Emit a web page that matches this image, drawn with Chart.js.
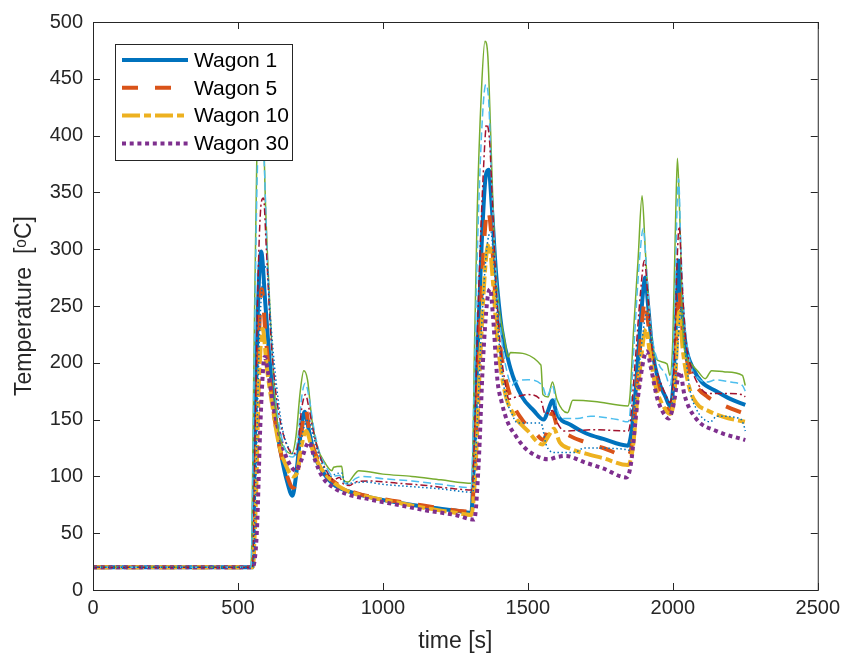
<!doctype html>
<html lang="en">
<head>
    <title>Wagon temperatures</title>
    <meta charset="UTF-8" />
    <style>
        html, body { margin: 0; padding: 0; background: #fff; }
        canvas { display: block; }
    </style>
</head>
<body>
<canvas id="myChart" width="846" height="661"></canvas>
<script src="https://cdn.jsdelivr.net/npm/chart.js"></script>

<script>
    // [time s, temperature oC] - first set (thick lines, in legend)
    const wagon1 = [[0,20],[550,20],[558,120],[568,240],[580,298],[595,250],[610,200],[630,150],[650,118],[670,95],[688,83],[700,100],[715,135],[730,157],[745,140],[765,118],[790,105],[830,93],[880,87],[950,82],[1050,77],[1150,73],[1250,70],[1305,68],[1312,100],[1325,200],[1340,300],[1355,365],[1365,370],[1375,340],[1390,280],[1410,230],[1440,195],[1480,170],[1520,158],[1555,150],[1570,158],[1585,167],[1600,155],[1650,145],[1700,138],[1760,133],[1845,127],[1855,135],[1870,170],[1890,240],[1905,275],[1915,250],[1930,210],[1950,185],[1975,170],[1990,162],[2000,175],[2010,230],[2020,290],[2030,250],[2045,215],[2070,195],[2100,183],[2150,175],[2200,168],[2250,163]];
    const wagon5 = [[0,20],[550,20],[560,80],[570,200],[582,265],[595,225],[610,185],[630,145],[650,118],[670,100],[690,90],[705,100],[718,135],[732,160],[750,135],[770,118],[800,103],[850,92],[900,86],[1000,80],[1100,76],[1200,72],[1305,69],[1315,100],[1330,200],[1350,310],[1362,335],[1375,310],[1390,250],[1410,205],[1440,170],[1480,150],[1520,140],[1555,132],[1570,145],[1585,156],[1600,145],[1650,135],[1700,130],[1760,125],[1845,118],[1860,130],[1880,190],[1905,255],[1915,235],[1935,195],[1960,172],[1990,158],[2005,175],[2020,265],[2035,225],[2055,195],[2080,180],[2120,170],[2180,162],[2250,155]];
    const wagon10 = [[0,20],[550,20],[562,80],[572,180],[585,230],[600,195],[620,160],[640,130],[665,110],[690,100],[702,102],[720,128],[735,140],[755,125],[780,110],[820,97],[870,88],[950,82],[1050,77],[1150,72],[1250,68],[1305,66],[1318,100],[1335,200],[1355,290],[1366,305],[1380,270],[1395,220],[1420,175],[1450,155],[1500,140],[1550,128],[1570,135],[1590,142],[1610,130],[1650,124],[1700,120],[1760,116],[1845,110],[1862,125],[1885,190],[1908,230],[1920,210],[1940,180],[1965,163],[1990,155],[2005,170],[2022,245],[2035,210],[2055,180],[2080,165],[2120,158],[2180,152],[2250,148]];
    const wagon30 = [[0,20],[550,20],[565,50],[578,150],[592,205],[605,190],[620,165],[645,135],[670,115],[700,105],[715,112],[745,130],[765,115],[790,100],[830,90],[880,84],[950,80],[1050,75],[1150,70],[1250,66],[1315,62],[1330,110],[1345,200],[1360,255],[1370,265],[1380,240],[1395,185],[1410,165],[1430,148],[1460,135],[1490,125],[1530,118],[1570,115],[1600,117],[1630,118],[1700,112],[1760,107],[1840,99],[1855,110],[1880,170],[1910,210],[1925,195],[1945,170],[1965,157],[1986,151],[2000,160],[2025,192],[2040,172],[2080,151],[2150,140],[2250,132]];

    // second set (thin lines, same wagons)
    const wagon1b = [[0,20],[545,20],[555,200],[565,380],[575,440],[585,430],[595,340],[610,250],[625,180],[640,140],[660,125],[686,120],[700,135],[715,175],[727,193],[740,185],[755,150],[775,125],[800,112],[824,105],[830,108],[858,109],[864,97],[880,95],[900,101],[916,105],[1000,102],[1100,100],[1200,97],[1308,94],[1315,200],[1325,330],[1340,440],[1352,483],[1362,470],[1372,400],[1385,300],[1400,250],[1420,220],[1432,205],[1440,209],[1545,198],[1552,172],[1570,170],[1585,183],[1600,168],[1637,156],[1655,167],[1730,166],[1845,162],[1852,170],[1865,230],[1880,290],[1894,347],[1905,300],[1920,240],[1940,204],[1980,199],[1990,189],[2000,220],[2010,330],[2016,380],[2025,320],[2037,218],[2060,200],[2085,193],[2112,186],[2134,193],[2180,192],[2240,189],[2250,180]];
    const wagon5b = [[0,20],[545,20],[556,200],[567,370],[578,410],[590,380],[600,300],[615,220],[630,170],[650,135],[670,120],[690,117],[705,130],[720,170],[732,182],[745,170],[760,145],[780,122],[805,108],[830,100],[850,101],[864,95],[880,93],[905,98],[930,100],[1000,98],[1100,96],[1200,93],[1305,90],[1312,150],[1325,290],[1340,400],[1355,445],[1365,430],[1375,360],[1390,280],[1410,220],[1430,190],[1445,180],[1455,183],[1500,185],[1550,180],[1565,170],[1585,180],[1600,160],[1614,151],[1671,151],[1717,153],[1809,150],[1845,148],[1852,155],[1865,210],[1885,290],[1898,318],[1910,280],[1925,230],[1950,200],[1975,190],[1990,180],[2005,230],[2015,340],[2020,362],[2028,300],[2040,240],[2060,200],[2090,186],[2117,183],[2150,185],[2200,183],[2240,180],[2250,175]];
    const wagon10b = [[0,20],[550,20],[560,150],[570,280],[580,340],[588,345],[598,300],[612,230],[628,180],[645,150],[665,130],[690,120],[705,125],[720,160],[733,172],[745,160],[760,140],[780,120],[805,105],[830,97],[850,99],[865,93],[885,92],[905,95],[950,96],[1050,94],[1150,92],[1250,89],[1308,88],[1315,130],[1330,260],[1345,360],[1358,410],[1368,395],[1378,340],[1390,270],[1405,215],[1420,185],[1435,168],[1460,170],[1500,172],[1545,167],[1560,155],[1585,158],[1600,148],[1626,140],[1728,141],[1845,140],[1852,145],[1870,200],[1888,260],[1902,290],[1915,255],[1930,210],[1955,185],[1975,172],[1990,165],[2005,200],[2015,290],[2022,320],[2032,270],[2045,220],[2065,195],[2090,180],[2120,173],[2180,173],[2240,172],[2250,170]];
    const wagon30b = [[0,20],[552,20],[562,100],[575,230],[590,280],[600,285],[612,240],[625,200],[640,165],[655,140],[675,125],[699,119],[710,125],[730,145],[745,150],[760,135],[780,118],[800,106],[824,100],[835,102],[858,103],[868,95],[880,94],[940,95],[1000,93],[1100,91],[1200,89],[1310,86],[1320,120],[1340,230],[1358,300],[1372,315],[1385,280],[1400,220],[1420,175],[1445,155],[1465,147],[1545,147],[1563,128],[1591,121],[1660,121],[1694,125],[1831,124],[1848,123],[1860,140],[1885,200],[1912,245],[1925,225],[1945,190],[1970,172],[1995,163],[2010,190],[2030,250],[2045,205],[2060,175],[2080,160],[2100,152],[2129,148],[2152,153],[2232,151],[2245,145],[2250,140]];

    const xTicks = [0, 500, 1000, 1500, 2000, 2500];
    const yTicks = [0, 50, 100, 150, 200, 250, 300, 350, 400, 450, 500];

    const series = [
        {label: 'Wagon 1',  data: wagon1,   color: '#0072BD', width: 4,   dash: [],              legend: true},
        {label: 'Wagon 5',  data: wagon5,   color: '#D95319', width: 4,   dash: [16, 17],        legend: true},
        {label: 'Wagon 10', data: wagon10,  color: '#EDB120', width: 4,   dash: [18, 4, 7, 4],   legend: true},
        {label: 'Wagon 30', data: wagon30,  color: '#7E2F8E', width: 4,   dash: [4, 3.7],        legend: true},
        {label: 'Wagon 1',  data: wagon1b,  color: '#77AC30', width: 1.5, dash: [],              legend: false},
        {label: 'Wagon 5',  data: wagon5b,  color: '#4DBEEE', width: 1.5, dash: [8, 4],          legend: false},
        {label: 'Wagon 10', data: wagon10b, color: '#A2142F', width: 1.5, dash: [7, 3, 2, 3],    legend: false},
        {label: 'Wagon 30', data: wagon30b, color: '#0072BD', width: 1.5, dash: [1.5, 2.5],      legend: false}
    ];

    const axisColor = '#262626';
    Chart.defaults.font.family = '"Liberation Sans", Arial, sans-serif';
    Chart.defaults.color = axisColor;

    // box round the axes with inward ticks on all four sides
    const frame = {
        id: 'frame',
        afterDatasetsDraw(chart) {
            const {ctx, chartArea: a, scales} = chart;
            ctx.save();
            ctx.strokeStyle = axisColor;
            ctx.lineWidth = 1;
            ctx.strokeRect(a.left + 0.5, a.top + 0.5, a.right - a.left, a.bottom - a.top);
            ctx.beginPath();
            xTicks.forEach(v => {
                const p = Math.round(scales.x.getPixelForValue(v)) + 0.5;
                ctx.moveTo(p, a.bottom); ctx.lineTo(p, a.bottom - 7);
                ctx.moveTo(p, a.top); ctx.lineTo(p, a.top + 7);
            });
            yTicks.forEach(v => {
                const p = Math.round(scales.y.getPixelForValue(v)) + 0.5;
                ctx.moveTo(a.left, p); ctx.lineTo(a.left + 7, p);
                ctx.moveTo(a.right, p); ctx.lineTo(a.right - 7, p);
            });
            ctx.stroke();
            ctx.restore();
        }
    };

    // legend box in the upper left corner of the axes
    const boxLegend = {
        id: 'boxLegend',
        afterDraw(chart) {
            const {ctx, chartArea: a} = chart;
            const items = chart.data.datasets.filter(d => d.inLegend);
            const x0 = a.left + 22, y0 = a.top + 22, w = 177, h = 116;
            ctx.save();
            ctx.fillStyle = '#fff';
            ctx.fillRect(x0, y0, w, h);
            ctx.strokeStyle = axisColor;
            ctx.lineWidth = 1;
            ctx.strokeRect(x0 + 0.5, y0 + 0.5, w, h);
            items.forEach((d, i) => {
                const y = y0 + 16 + i * 27.8;
                ctx.beginPath();
                ctx.setLineDash(d.borderDash);
                ctx.lineWidth = d.borderWidth;
                ctx.strokeStyle = d.borderColor;
                ctx.moveTo(x0 + 7, y);
                ctx.lineTo(x0 + 73, y);
                ctx.stroke();
                ctx.setLineDash([]);
                ctx.fillStyle = '#000';
                ctx.font = '21px "Liberation Sans", Arial, sans-serif';
                ctx.textBaseline = 'middle';
                ctx.fillText(d.label, x0 + 79, y + 1);
            });
            ctx.restore();
        }
    };

    const plain = v => String(v);

    const ctx = document.getElementById('myChart');
    const chart = new Chart(ctx, {
        type: 'line',
        data: {
            datasets: series.map((s, i) => ({
                label: s.label,
                data: s.data.map(p => ({x: p[0], y: p[1]})),
                borderColor: s.color,
                backgroundColor: s.color,
                borderWidth: s.width,
                borderDash: s.dash,
                pointRadius: 0,
                fill: false,
                cubicInterpolationMode: 'monotone',
                order: series.length - i,
                inLegend: s.legend
            }))
        },
        options: {
            responsive: false,
            animation: false,
            devicePixelRatio: 1,
            layout: {padding: {left: 0, top: 17, right: 26, bottom: 0}},
            plugins: {
                legend: {display: false},
                tooltip: {enabled: false}
            },
            scales: {
                x: {
                    type: 'linear',
                    min: 0,
                    max: 2500,
                    afterBuildTicks: s => { s.ticks = xTicks.map(v => ({value: v})); },
                    afterFit: s => { s.height = 71; },
                    grid: {display: false, drawTicks: false},
                    border: {display: false},
                    ticks: {font: {size: 20}, color: axisColor, padding: 6, maxRotation: 0, callback: plain},
                    title: {display: true, text: 'time [s]', font: {size: 23}, color: axisColor, padding: {top: 0, bottom: 6}}
                },
                y: {
                    type: 'linear',
                    min: 0,
                    max: 500,
                    afterBuildTicks: s => { s.ticks = yTicks.map(v => ({value: v})); },
                    afterFit: s => { s.width = 93; },
                    grid: {display: false, drawTicks: false},
                    border: {display: false},
                    ticks: {font: {size: 20}, color: axisColor, padding: 10, callback: plain},
                    title: {display: true, text: 'Temperature  [ᵒC]', font: {size: 23}, color: axisColor, padding: {top: 11, bottom: 0}}
                }
            }
        },
        plugins: [frame, boxLegend]
    });
</script>
</body>
</html>
